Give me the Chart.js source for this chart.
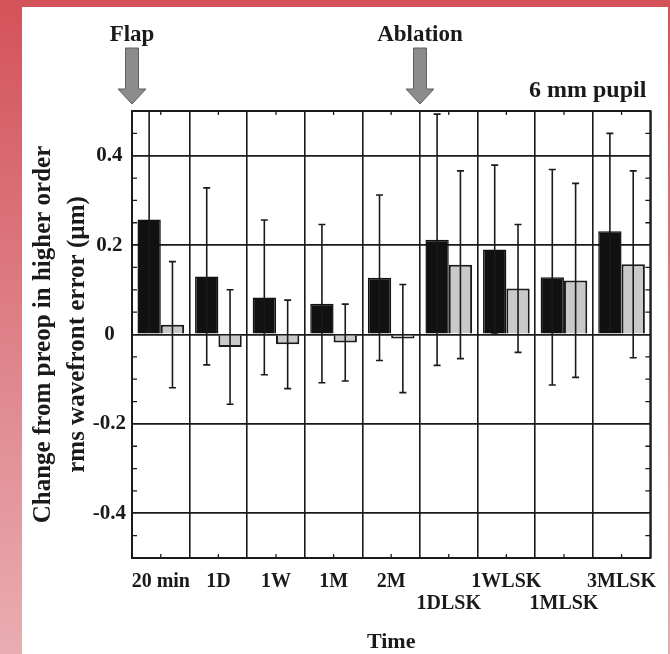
<!DOCTYPE html>
<html>
<head>
<meta charset="utf-8">
<script src="https://cdn.jsdelivr.net/npm/chart.js@4.4.0/dist/chart.umd.min.js"></script>
<style>
html, body { margin: 0; padding: 0; }
body {
  width: 670px; height: 654px; position: relative; overflow: hidden;
  background: linear-gradient(to bottom, #d4525a 0%, #de8087 50%, #e9adb1 100%);
}
#card { position: absolute; left: 22px; top: 7px; width: 646px; height: 647px; background: #fff; }
#wrap { position: absolute; left: 0; top: 0; width: 670px; height: 654px; }
</style>
</head>
<body>
<div id="card"></div>
<div id="wrap"><canvas id="chart" width="670" height="654"></canvas></div>
<script>
// categories along the time axis
const categories = ['20 min', '1D', '1W', '1M', '2M', '1DLSK', '1WLSK', '1MLSK', '3MLSK'];
// which line of the axis each label sits on (labels are staggered)
const labelLine = [1, 1, 1, 1, 1, 2, 1, 2, 1];

// black bars: mean change and SD
const meanBlack = [0.257, 0.130, 0.083, 0.069, 0.127, 0.212, 0.190, 0.128, 0.231];
const sdBlack   = [0.250, 0.198, 0.173, 0.177, 0.185, 0.281, 0.189, 0.241, 0.219];
// grey bars: mean change and SD
const meanGray  = [0.022, -0.028, -0.022, -0.018, -0.009, 0.156, 0.103, 0.121, 0.157];
const sdGray    = [0.141, 0.128, 0.099, 0.086, 0.121, 0.210, 0.143, 0.217, 0.209];

const yTicks = [-0.4, -0.2, 0, 0.2, 0.4];
const minorStep = 0.05;

// arrows above the plot
const eventLabels = ['Flap', 'Ablation'];
const eventIndex = [0, 5];

const ink = '#1a1a1a';
const serif = "'Liberation Serif', 'Times New Roman', serif";

const tickLabels = categories.map((c, i) => labelLine[i] === 2 ? ['', c] : [c]);

// error bars (mean +/- SD)
const errorBars = {
  id: 'errorBars',
  afterDatasetsDraw(chart) {
    const {ctx, chartArea: a, scales: {y}} = chart;
    ctx.save();
    ctx.beginPath();
    ctx.rect(a.left, a.top, a.right - a.left, a.bottom - a.top);
    ctx.clip();
    ctx.strokeStyle = ink;
    ctx.lineWidth = 1.6;
    chart.data.datasets.forEach((ds, di) => {
      chart.getDatasetMeta(di).data.forEach((bar, i) => {
        const m = ds.data[i], s = ds.sd[i];
        const yt = y.getPixelForValue(m + s);
        const yb = y.getPixelForValue(m - s);
        ctx.beginPath();
        ctx.moveTo(bar.x, yt); ctx.lineTo(bar.x, yb);
        ctx.moveTo(bar.x - 3.5, yt); ctx.lineTo(bar.x + 3.5, yt);
        ctx.moveTo(bar.x - 3.5, yb); ctx.lineTo(bar.x + 3.5, yb);
        ctx.stroke();
      });
    });
    ctx.restore();
  }
};

// plot frame and small inward ticks
const frame = {
  id: 'frame',
  afterDraw(chart) {
    const {ctx, chartArea: a, scales: {x, y}} = chart;
    ctx.save();
    ctx.strokeStyle = ink;
    ctx.lineWidth = 2;
    ctx.strokeRect(a.left, a.top, a.right - a.left, a.bottom - a.top);
    ctx.lineWidth = 1.3;
    ctx.beginPath();
    for (let v = y.min + minorStep; v < y.max - 1e-9; v += minorStep) {
      if (yTicks.some(t => Math.abs(t - v) < 1e-6)) continue;
      const py = y.getPixelForValue(v);
      ctx.moveTo(a.left, py); ctx.lineTo(a.left + 5, py);
      ctx.moveTo(a.right, py); ctx.lineTo(a.right - 5, py);
    }
    categories.forEach((c, i) => {
      const px = x.getPixelForValue(i);
      ctx.moveTo(px, a.top); ctx.lineTo(px, a.top + 4);
      ctx.moveTo(px, a.bottom); ctx.lineTo(px, a.bottom - 4);
    });
    ctx.stroke();
    ctx.restore();
  }
};

// Flap / Ablation arrows and the pupil note
const marks = {
  id: 'marks',
  afterDraw(chart) {
    const {ctx, chartArea: a, scales: {x}} = chart;
    const half = (x.getPixelForValue(1) - x.getPixelForValue(0)) / 2;
    ctx.save();
    eventLabels.forEach((txt, k) => {
      const px = x.getPixelForValue(eventIndex[k]) - half;
      const tip = a.top - 7;
      ctx.beginPath();
      ctx.moveTo(px - 6.5, tip - 56);
      ctx.lineTo(px + 6.5, tip - 56);
      ctx.lineTo(px + 6.5, tip - 15);
      ctx.lineTo(px + 14, tip - 15);
      ctx.lineTo(px, tip);
      ctx.lineTo(px - 14, tip - 15);
      ctx.lineTo(px - 6.5, tip - 15);
      ctx.closePath();
      ctx.fillStyle = '#8c8c8c';
      ctx.fill();
      ctx.strokeStyle = '#5e5e5e';
      ctx.lineWidth = 1;
      ctx.stroke();
      ctx.fillStyle = ink;
      ctx.font = 'bold 23px ' + serif;
      ctx.textAlign = 'center';
      ctx.textBaseline = 'alphabetic';
      ctx.fillText(txt, px, tip - 63);
    });
    ctx.font = 'bold 24px ' + serif;
    ctx.textAlign = 'right';
    ctx.fillStyle = ink;
    ctx.fillText('6 mm pupil', a.right - 4, a.top - 14);
    ctx.restore();
  }
};

new Chart(document.getElementById('chart'), {
  type: 'bar',
  data: {
    labels: tickLabels,
    datasets: [
      { label: 'black', data: meanBlack, sd: sdBlack, backgroundColor: '#111', borderColor: '#111', borderWidth: 1.5 },
      { label: 'grey', data: meanGray, sd: sdGray, backgroundColor: '#c9c9c9', borderColor: ink, borderWidth: 2 }
    ]
  },
  options: {
    responsive: false,
    animation: false,
    devicePixelRatio: 1,
    layout: { padding: { left: 22, top: 111, right: 18, bottom: 0 } },
    plugins: { legend: { display: false }, tooltip: { enabled: false } },
    datasets: { bar: { categoryPercentage: 0.81, barPercentage: 1 } },
    scales: {
      x: {
        grid: { offset: true, color: ink, lineWidth: 1.6, drawTicks: false },
        border: { display: false },
        ticks: {
          autoSkip: false, maxRotation: 0, minRotation: 0, padding: 13,
          color: ink, font: { family: serif, size: 20, weight: 'bold', lineHeight: 1.1 }
        },
        title: {
          display: true, text: 'Time', color: ink,
          font: { family: serif, size: 22, weight: 'bold', lineHeight: 1.1 },
          padding: { top: 10, bottom: 0 }
        },
        afterFit(s) { s.height = 96; }
      },
      y: {
        min: -0.5,
        max: 0.5,
        afterBuildTicks(s) { s.ticks = yTicks.map(v => ({ value: v })); },
        grid: { color: ink, lineWidth: 1.8, drawTicks: false },
        border: { display: false },
        ticks: {
          crossAlign: 'center', padding: 6, color: ink,
          font: { family: serif, size: 21, weight: 'bold' },
          callback: v => String(v)
        },
        title: {
          display: true, color: ink,
          text: ['Change from preop in higher order', 'rms wavefront error (\u00b5m)'],
          font: { family: serif, size: 25, weight: 'bold', lineHeight: 1.36 },
          padding: { top: 5, bottom: 0 }
        },
        afterFit(s) { s.width = 110; }
      }
    }
  },
  plugins: [errorBars, frame, marks]
});
</script>
</body>
</html>
